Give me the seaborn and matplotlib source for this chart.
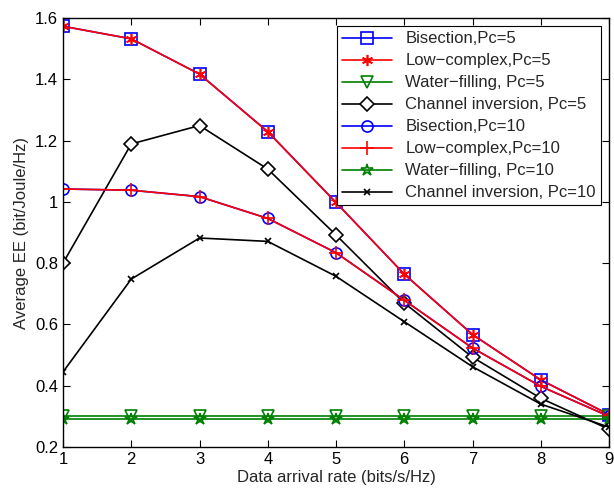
import matplotlib
matplotlib.use("Agg")
import matplotlib.pyplot as plt
import seaborn as sns
import pandas as pd

rate = [1, 2, 3, 4, 5, 6, 7, 8, 9]
bis_pc5 = [1.573, 1.532, 1.417, 1.229, 0.998, 0.764, 0.567, 0.419, 0.306]
low_pc5 = [1.573, 1.532, 1.417, 1.229, 0.998, 0.764, 0.567, 0.419, 0.306]
wf_pc5 = [0.300, 0.300, 0.300, 0.300, 0.300, 0.300, 0.300, 0.300, 0.300]
ci_pc5 = [0.800, 1.189, 1.249, 1.107, 0.892, 0.670, 0.493, 0.359, 0.258]
bis_pc10 = [1.042, 1.038, 1.017, 0.946, 0.834, 0.679, 0.523, 0.398, 0.300]
low_pc10 = [1.042, 1.038, 1.017, 0.946, 0.834, 0.679, 0.523, 0.398, 0.300]
wf_pc10 = [0.290, 0.290, 0.290, 0.290, 0.290, 0.290, 0.290, 0.290, 0.290]
ci_pc10 = [0.445, 0.748, 0.882, 0.871, 0.757, 0.609, 0.462, 0.340, 0.265]

labels = ["Bisection,Pc=5", "Low\u2212complex,Pc=5", "Water\u2212filling, Pc=5",
          "Channel inversion, Pc=5", "Bisection,Pc=10", "Low\u2212complex,Pc=10",
          "Water\u2212filling, Pc=10", "Channel inversion, Pc=10"]
series = [bis_pc5, low_pc5, wf_pc5, ci_pc5, bis_pc10, low_pc10, wf_pc10, ci_pc10]

sns.set_theme(style="ticks")
plt.rcParams['font.family'] = ['Liberation Sans', 'DejaVu Sans']
plt.rcParams['xtick.direction'] = 'in'
plt.rcParams['ytick.direction'] = 'in'

fig = plt.figure(figsize=(6.14, 4.88), dpi=100)
ax = fig.add_axes([63/614, 1-447/488, (609-63)/614, (447-18)/488])

asterisk = (6, 2, 0)
styles = [
    dict(color="#0000ff", marker="s", ms=8, mfc="none", mec="#0000ff"),
    dict(color="#ff0000", marker=asterisk, ms=8, mfc="#ff0000", mec="#ff0000"),
    dict(color="#008000", marker="v", ms=8, mfc="none", mec="#008000"),
    dict(color="#000000", marker="D", ms=7, mfc="white", mec="#000000"),
    dict(color="#0000ff", marker="o", ms=8, mfc="none", mec="#0000ff"),
    dict(color="#ff0000", marker="+", ms=10, mfc="none", mec="#ff0000"),
    dict(color="#008000", marker="*", ms=9, mfc="none", mec="#008000"),
    dict(color="#000000", marker="x", ms=5, mfc="none", mec="#000000"),
]

for lab, vals, st in zip(labels, series, styles):
    df = pd.DataFrame({"rate": rate, "ee": vals})
    sns.lineplot(data=df, x="rate", y="ee", ax=ax, label=lab,
                 color=st["color"], marker=st["marker"], markersize=st["ms"],
                 markerfacecolor=st["mfc"], markeredgecolor=st["mec"],
                 markeredgewidth=1.2, linewidth=1.2)

ax.set_xlim(1, 9)
ax.set_ylim(0.2, 1.6)
ax.set_xticks(rate)
ax.set_xticklabels([str(r) for r in rate])
ax.set_yticks([0.2, 0.4, 0.6, 0.8, 1.0, 1.2, 1.4, 1.6])
ax.set_yticklabels(["0.2", "0.4", "0.6", "0.8", "1", "1.2", "1.4", "1.6"])
ax.tick_params(labelsize=12, top=True, right=True, length=5, width=0.8, colors="black")
for sp in ax.spines.values():
    sp.set_visible(True)
    sp.set_color("black")
    sp.set_linewidth(1.0)
ax.set_xlabel("Data arrival rate (bits/s/Hz)", fontsize=12, labelpad=2)
ax.set_ylabel("Average EE (bit/Joule/Hz)", fontsize=12)

leg = ax.legend(loc="upper right", fontsize=12, frameon=True, fancybox=False,
                edgecolor="black", framealpha=1, borderpad=0.3, labelspacing=0.42,
                handlelength=3.0, borderaxespad=0.5)
leg.get_frame().set_linewidth(0.8)

fig.savefig("out.png", dpi=100)
